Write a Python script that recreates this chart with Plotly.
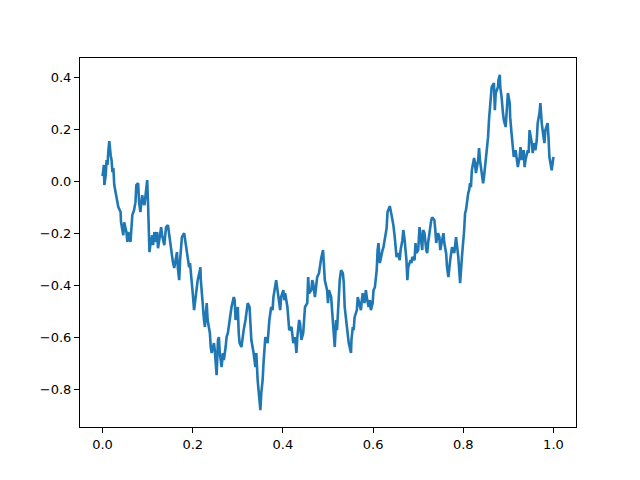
import plotly.graph_objects as go

# Brownian path (time, value)
t = [0.000, 0.002, 0.003, 0.004, 0.007, 0.009, 0.011, 0.013, 0.015, 0.018, 0.020, 0.022, 0.024, 0.026, 0.031, 0.033, 0.035, 0.040, 0.041, 0.044,
     0.046, 0.048, 0.053, 0.055, 0.057, 0.062, 0.064, 0.066, 0.070, 0.073, 0.075, 0.079, 0.081, 0.084, 0.088, 0.090, 0.093, 0.097, 0.099, 0.101,
     0.102, 0.104, 0.106, 0.110, 0.112, 0.115, 0.119, 0.121, 0.123, 0.128, 0.130, 0.132, 0.137, 0.139, 0.141, 0.145, 0.148, 0.150, 0.154, 0.156,
     0.159, 0.163, 0.165, 0.167, 0.170, 0.172, 0.174, 0.176, 0.181, 0.183, 0.185, 0.189, 0.192, 0.194, 0.198, 0.200, 0.203, 0.207, 0.209, 0.211,
     0.216, 0.217, 0.218, 0.220, 0.225, 0.227, 0.229, 0.231, 0.233, 0.238, 0.240, 0.242, 0.247, 0.249, 0.251, 0.253, 0.256, 0.258, 0.260, 0.264,
     0.267, 0.269, 0.273, 0.275, 0.278, 0.282, 0.284, 0.286, 0.291, 0.293, 0.295, 0.300, 0.302, 0.304, 0.308, 0.311, 0.313, 0.317, 0.319, 0.322,
     0.326, 0.328, 0.330, 0.335, 0.337, 0.339, 0.341, 0.344, 0.348, 0.350, 0.352, 0.355, 0.357, 0.359, 0.361, 0.366, 0.368, 0.370, 0.374, 0.377,
     0.379, 0.383, 0.385, 0.388, 0.392, 0.394, 0.396, 0.401, 0.403, 0.405, 0.410, 0.412, 0.414, 0.419, 0.421, 0.423, 0.427, 0.430, 0.432, 0.436,
     0.438, 0.441, 0.445, 0.447, 0.449, 0.454, 0.456, 0.458, 0.463, 0.465, 0.467, 0.471, 0.474, 0.476, 0.480, 0.482, 0.485, 0.489, 0.491, 0.493,
     0.498, 0.500, 0.502, 0.507, 0.509, 0.511, 0.515, 0.518, 0.520, 0.524, 0.526, 0.529, 0.533, 0.535, 0.537, 0.542, 0.544, 0.546, 0.551, 0.552,
     0.555, 0.557, 0.559, 0.564, 0.566, 0.568, 0.573, 0.575, 0.577, 0.581, 0.584, 0.586, 0.590, 0.593, 0.595, 0.599, 0.601, 0.604, 0.608, 0.610,
     0.612, 0.615, 0.617, 0.621, 0.623, 0.626, 0.630, 0.632, 0.637, 0.641, 0.645, 0.648, 0.650, 0.652, 0.656, 0.659, 0.661, 0.665, 0.667, 0.670,
     0.674, 0.676, 0.678, 0.683, 0.685, 0.687, 0.692, 0.694, 0.696, 0.700, 0.703, 0.705, 0.709, 0.711, 0.714, 0.718, 0.720, 0.722, 0.727, 0.729,
     0.731, 0.736, 0.738, 0.740, 0.744, 0.747, 0.749, 0.753, 0.756, 0.758, 0.762, 0.764, 0.767, 0.771, 0.773, 0.775, 0.780, 0.782, 0.784, 0.789,
     0.791, 0.793, 0.797, 0.800, 0.802, 0.804, 0.806, 0.811, 0.813, 0.815, 0.817, 0.819, 0.824, 0.826, 0.828, 0.833, 0.835, 0.837, 0.841, 0.844,
     0.846, 0.850, 0.852, 0.855, 0.857, 0.859, 0.861, 0.863, 0.868, 0.869, 0.870, 0.872, 0.877, 0.878, 0.881, 0.882, 0.885, 0.888, 0.890, 0.894,
     0.896, 0.899, 0.903, 0.904, 0.907, 0.910, 0.912, 0.916, 0.919, 0.921, 0.925, 0.927, 0.930, 0.934, 0.936, 0.938, 0.943, 0.945, 0.947, 0.952,
     0.954, 0.956, 0.960, 0.963, 0.965, 0.969, 0.971, 0.974, 0.978, 0.980, 0.982, 0.987, 0.989, 0.991, 0.996, 0.998, 1.000]

w = [0.020, 0.043, 0.063, -0.014, 0.024, 0.082, 0.063, 0.120, 0.155, 0.101, 0.082, 0.036, 0.051, -0.014, -0.053, -0.080, -0.099, -0.118, -0.157, -0.180,
     -0.207, -0.157, -0.195, -0.233, -0.195, -0.233, -0.168, -0.130, -0.110, -0.080, -0.014, -0.007, -0.080, -0.118, -0.053, -0.080, -0.091, -0.041, 0.005, -0.091,
     -0.180, -0.272, -0.245, -0.207, -0.245, -0.195, -0.233, -0.195, -0.257, -0.207, -0.176, -0.207, -0.245, -0.207, -0.176, -0.168, -0.207, -0.245, -0.283, -0.310,
     -0.333, -0.295, -0.272, -0.333, -0.380, -0.303, -0.237, -0.214, -0.199, -0.226, -0.253, -0.291, -0.330, -0.314, -0.380, -0.430, -0.495, -0.445, -0.407, -0.380,
     -0.341, -0.330, -0.380, -0.430, -0.533, -0.560, -0.522, -0.468, -0.533, -0.583, -0.637, -0.660, -0.622, -0.649, -0.699, -0.745, -0.610, -0.599, -0.660, -0.714,
     -0.660, -0.687, -0.637, -0.599, -0.583, -0.533, -0.495, -0.483, -0.445, -0.457, -0.533, -0.483, -0.583, -0.622, -0.637, -0.583, -0.572, -0.533, -0.495, -0.468,
     -0.483, -0.533, -0.610, -0.660, -0.687, -0.714, -0.660, -0.764, -0.841, -0.880, -0.814, -0.764, -0.699, -0.637, -0.599, -0.622, -0.572, -0.533, -0.483, -0.495,
     -0.445, -0.391, -0.380, -0.418, -0.468, -0.495, -0.445, -0.418, -0.457, -0.430, -0.483, -0.545, -0.572, -0.560, -0.599, -0.622, -0.599, -0.660, -0.599, -0.533,
     -0.545, -0.610, -0.583, -0.522, -0.483, -0.468, -0.368, -0.430, -0.418, -0.380, -0.391, -0.445, -0.391, -0.368, -0.353, -0.322, -0.295, -0.264, -0.341, -0.380,
     -0.418, -0.468, -0.418, -0.445, -0.495, -0.560, -0.637, -0.533, -0.572, -0.445, -0.380, -0.341, -0.353, -0.391, -0.483, -0.560, -0.583, -0.622, -0.660, -0.610,
     -0.560, -0.572, -0.522, -0.495, -0.445, -0.457, -0.495, -0.457, -0.430, -0.468, -0.418, -0.445, -0.483, -0.457, -0.495, -0.468, -0.418, -0.407, -0.341, -0.264,
     -0.237, -0.314, -0.291, -0.264, -0.253, -0.214, -0.180, -0.118, -0.095, -0.130, -0.168, -0.214, -0.253, -0.291, -0.276, -0.303, -0.264, -0.226, -0.187, -0.226,
     -0.303, -0.380, -0.330, -0.303, -0.314, -0.291, -0.303, -0.237, -0.276, -0.264, -0.176, -0.214, -0.264, -0.187, -0.199, -0.264, -0.276, -0.237, -0.160, -0.149,
     -0.138, -0.149, -0.187, -0.237, -0.199, -0.214, -0.264, -0.226, -0.199, -0.237, -0.276, -0.330, -0.368, -0.303, -0.264, -0.253, -0.276, -0.226, -0.214, -0.291,
     -0.368, -0.391, -0.291, -0.237, -0.187, -0.122, -0.111, -0.045, -0.034, -0.007, -0.022, 0.043, 0.090, 0.071, 0.032, 0.082, 0.128, 0.082, 0.032, -0.007,
     0.017, 0.082, 0.120, 0.170, 0.236, 0.274, 0.340, 0.363, 0.378, 0.313, 0.274, 0.340, 0.363, 0.390, 0.410, 0.363, 0.324, 0.263, 0.236, 0.209,
     0.274, 0.340, 0.301, 0.247, 0.186, 0.132, 0.094, 0.120, 0.082, 0.055, 0.094, 0.132, 0.082, 0.120, 0.055, 0.082, 0.120, 0.109, 0.197, 0.147,
     0.109, 0.147, 0.120, 0.159, 0.224, 0.263, 0.301, 0.224, 0.170, 0.147, 0.197, 0.224, 0.170, 0.094, 0.043, 0.082, 0.094]

x_ticks = [0.0, 0.2, 0.4, 0.6, 0.8, 1.0]
x_labels = ["0.0", "0.2", "0.4", "0.6", "0.8", "1.0"]
y_ticks = [-0.8, -0.6, -0.4, -0.2, 0.0, 0.2, 0.4]
y_labels = ["\u22120.8", "\u22120.6", "\u22120.4", "\u22120.2", "0.0", "0.2", "0.4"]

fig = go.Figure()
fig.add_trace(go.Scatter(x=t, y=w, mode="lines",
                         line=dict(color="#1f77b4", width=2.6), showlegend=False))

axis_common = dict(showgrid=False, zeroline=False, showline=True, linecolor="black",
                   linewidth=1, mirror=True, ticks="outside", ticklen=5, tickwidth=1,
                   tickcolor="black", tickfont=dict(family="DejaVu Sans", size=13, color="black"))

fig.update_xaxes(range=[-0.05, 1.05], tickmode="array", tickvals=x_ticks, ticktext=x_labels, **axis_common)
fig.update_yaxes(range=[-0.9445, 0.4745], tickmode="array", tickvals=y_ticks, ticktext=y_labels, **axis_common)

fig.update_layout(width=640, height=480, plot_bgcolor="white", paper_bgcolor="white",
                  margin=dict(l=72, r=72, t=50, b=61))

fig.write_html("out.html")
